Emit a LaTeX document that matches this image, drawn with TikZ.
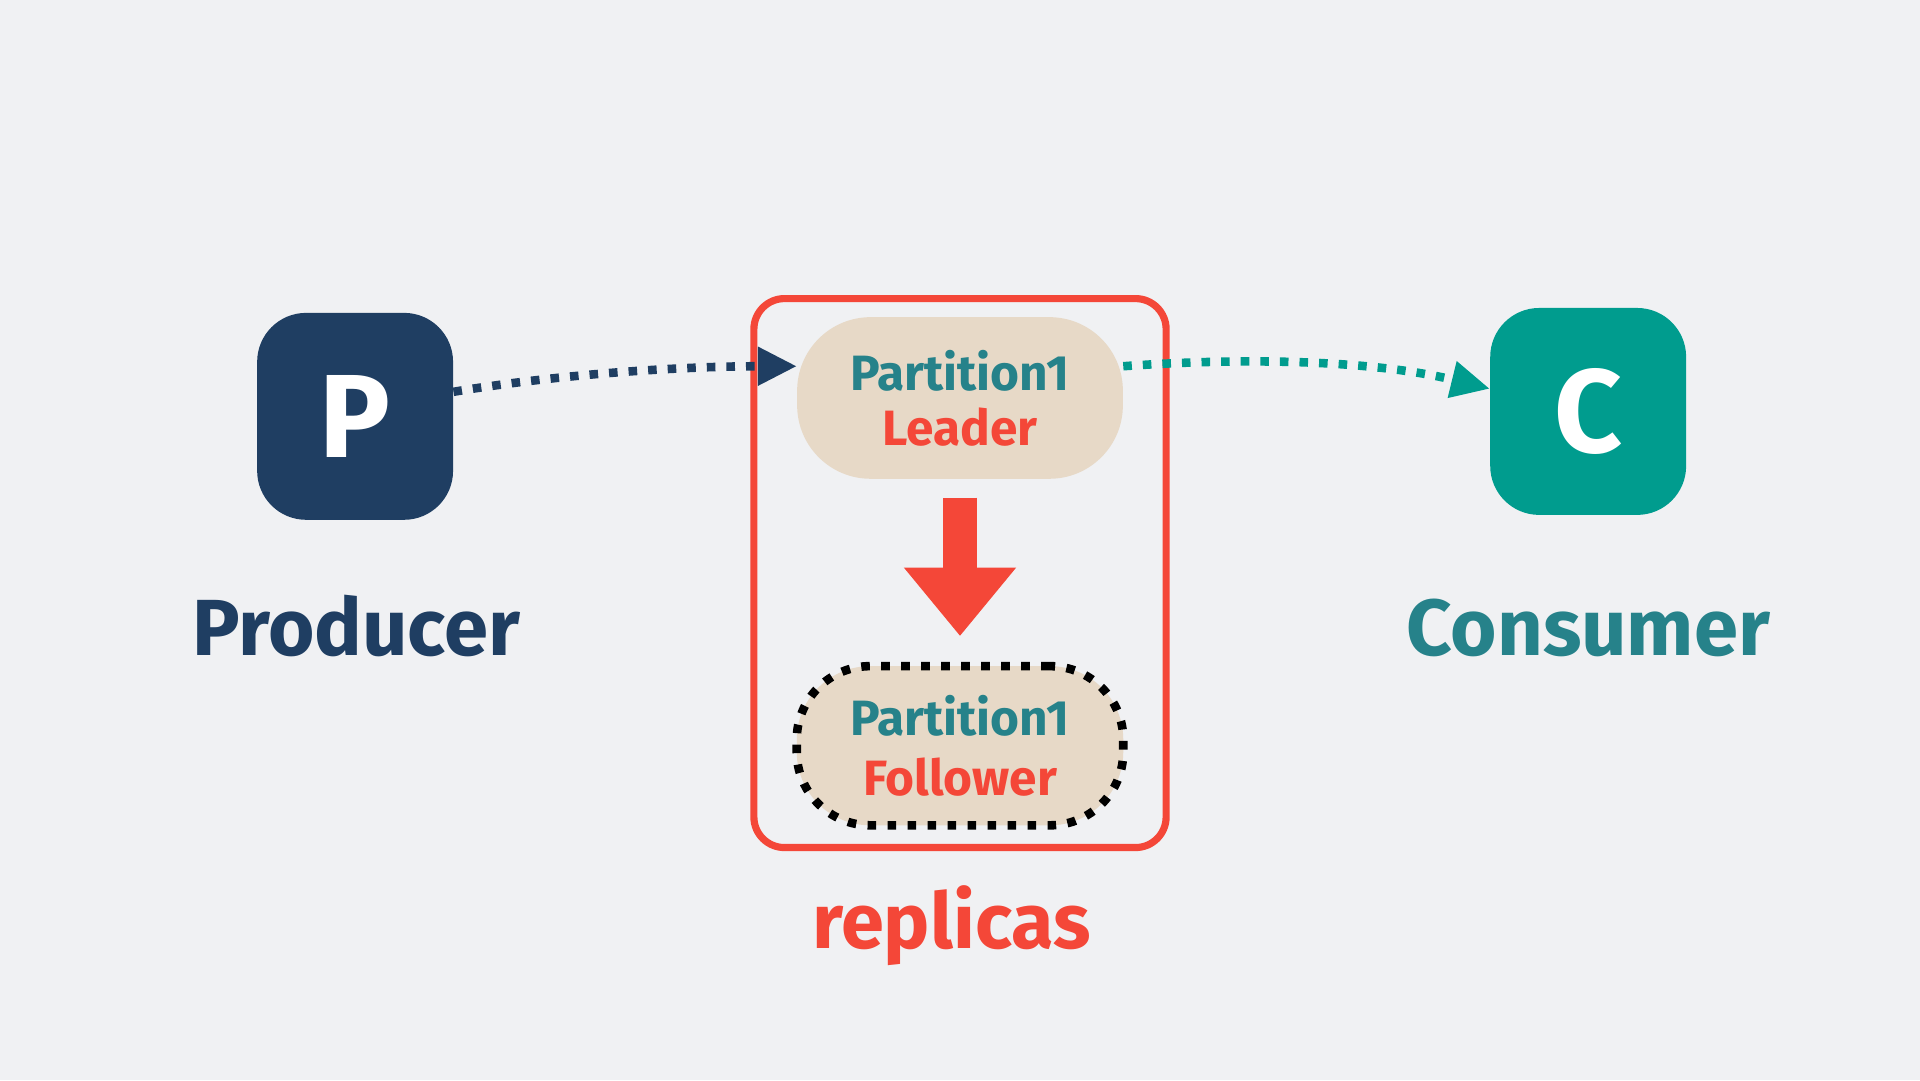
\documentclass[tikz,border=0pt]{standalone}
\usepackage{fontspec}
\setmainfont{Fira Sans}
\usetikzlibrary{arrows.meta,calc}
\definecolor{bg}{HTML}{F0F1F3}
\definecolor{navy}{HTML}{1F3E62}
\definecolor{tealbox}{HTML}{009C8E}
\definecolor{tealtext}{HTML}{26828A}
\definecolor{redc}{HTML}{F44738}
\definecolor{beige}{HTML}{E7D9C7}
\begin{document}
\begin{tikzpicture}[x=0.6pt,y=-0.6pt,
  iconbox/.style={rectangle, rounded corners=24pt, minimum width=96pt, minimum height=101.4pt,
    inner sep=0pt, text=white, font=\fontsize{58}{58}\selectfont\bfseries},
  caption/.style={anchor=base, inner sep=0pt, font=\fontsize{39}{39}\selectfont\bfseries},
  partbox/.style={rectangle, rounded corners=36pt, fill=beige, minimum width=159.6pt,
    minimum height=79.2pt, inner sep=0pt, align=center, font=\fontsize{24.3}{27}\selectfont\bfseries},
  flow/.style={line width=4.2pt, dash pattern=on 4.2pt off 5.4pt},
  bigarrow/.style={redc, line width=16.8pt, -{Triangle[length=33.6pt,width=52.8pt]}}
]
\fill[bg] (0,0) rectangle (1568,882);
\useasboundingbox (0,0) rectangle (1568,882);

\node[draw=redc, line width=3.5pt, rounded corners=15pt, minimum width=202pt,
  minimum height=269pt, inner sep=0pt] (R) at (784,468) {};

\node[iconbox, fill=navy] (P) at (290,340) {P};
\node[iconbox, fill=tealbox] (C) at (1297,336) {C};
\node[caption, text=navy] (prod) at (291,535) {Producer};
\node[caption, text=tealtext] (cons) at (1297,535) {Consumer};

\node[partbox] (L) at (784,325) {\textcolor{tealtext}{Partition1}\\\textcolor{redc}{Leader}};
\node[partbox, draw=black, line width=4.2pt, dash pattern=on 4.2pt off 5.6pt,
  minimum width=160pt, minimum height=78pt, font=\fontsize{24.3}{29.4}\selectfont\bfseries]
  (F) at (784,609) {\textcolor{tealtext}{Partition1}\\\textcolor{redc}{Follower}};

\node[caption, text=redc, font=\fontsize{38}{38}\selectfont\bfseries] (rep) at (777,775) {replicas};

\draw[bigarrow, shorten <=9pt, shorten >=12.6pt] (L.south) -- (F.north);

\draw[flow, navy, -{Triangle[length=19pt,width=18pt]}]
  (P.14) .. controls +(90,-15) and +(-90,0) .. (L.169);
\draw[flow, tealbox, -{Triangle[length=19pt,width=17.4pt]}]
  (L.11) .. controls +(110,-8) and +(-90,-22) .. (C.167);
\end{tikzpicture}
\end{document}
